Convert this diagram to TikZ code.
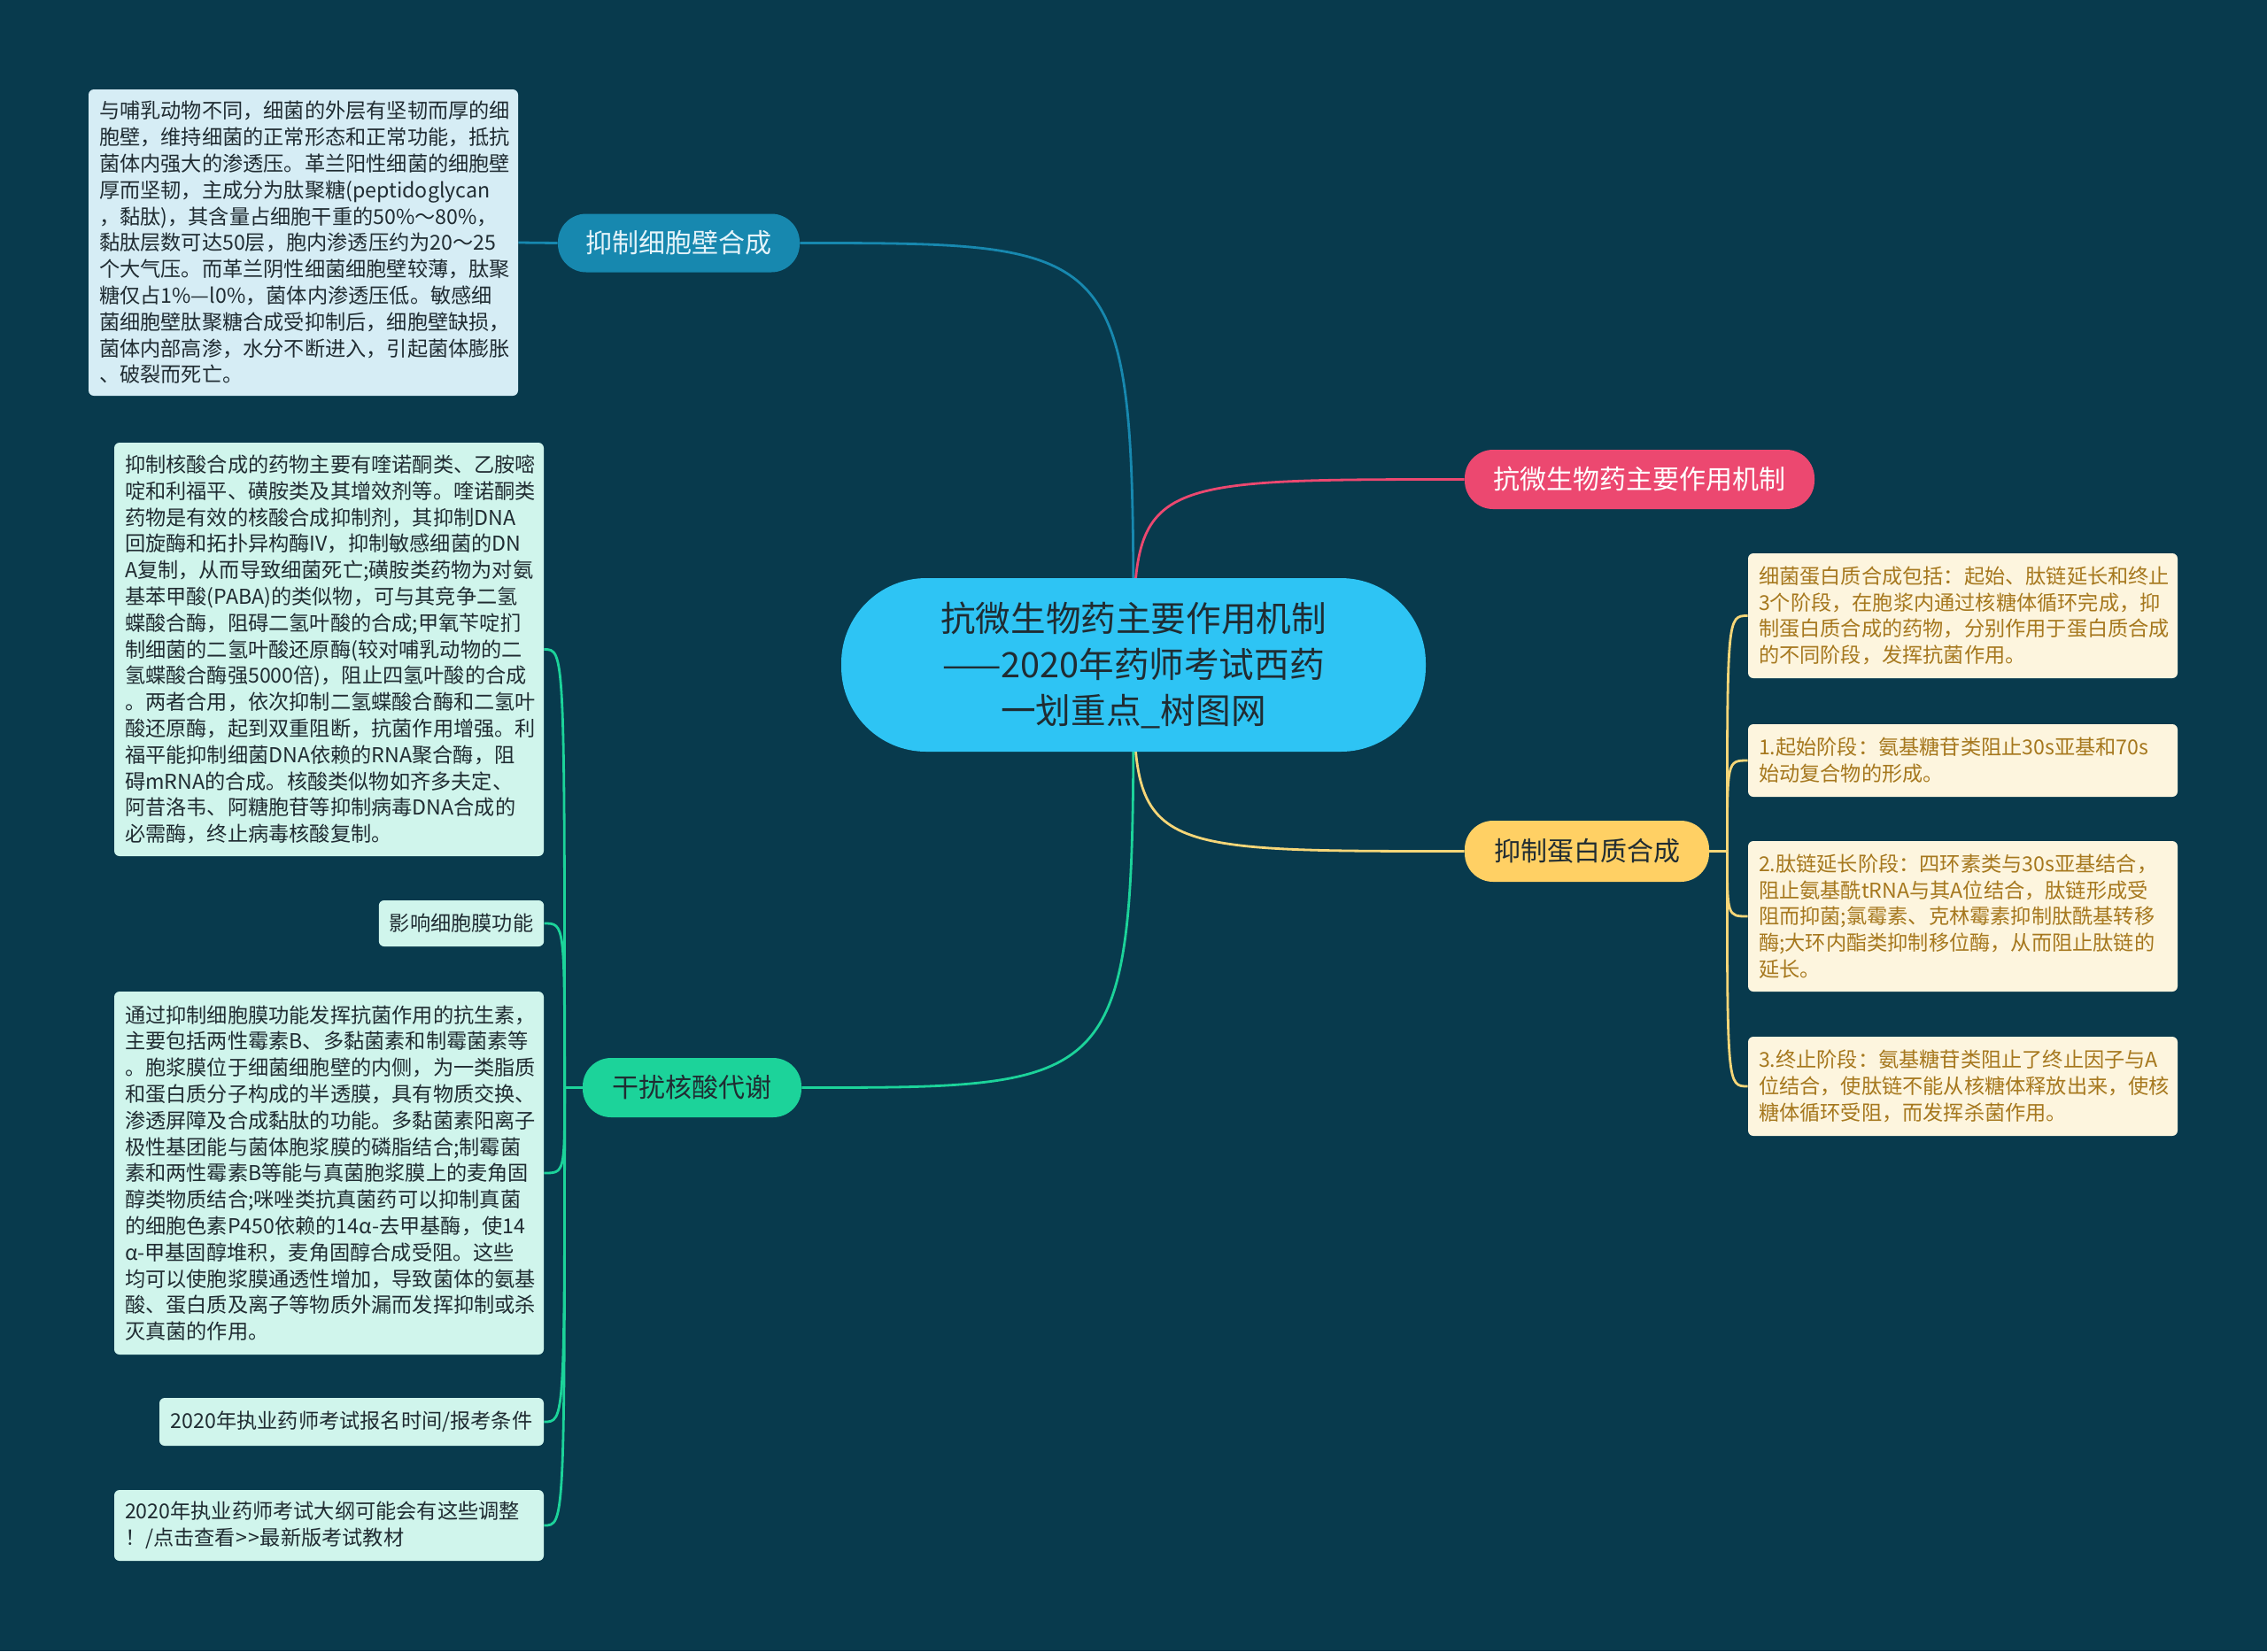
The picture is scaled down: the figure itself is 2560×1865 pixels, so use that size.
\documentclass[tikz,border=0pt]{standalone}
\usepackage{fontspec}
\setmainfont{Noto Sans CJK SC}
\usetikzlibrary{calc}
\definecolor{cbg}{RGB}{8,58,77}
\definecolor{croot}{RGB}{46,196,244}
\definecolor{cwall}{RGB}{23,136,175}
\definecolor{cwallbg}{RGB}{214,237,245}
\definecolor{ctitle}{RGB}{236,72,112}
\definecolor{cprot}{RGB}{255,208,100}
\definecolor{cprotln}{RGB}{246,214,120}
\definecolor{cprotbg}{RGB}{253,245,222}
\definecolor{cprottx}{RGB}{166,120,30}
\definecolor{cnuc}{RGB}{28,211,154}
\definecolor{cnucbg}{RGB}{208,245,236}
\definecolor{cdark}{RGB}{32,44,50}
\pgfdeclarelayer{bg}
\pgfdeclarelayer{edges}
\pgfsetlayers{bg,edges,main}

\begin{document}
\begin{tikzpicture}[
  x=0.5pt, y=-0.5pt,
  link/.style={line width=1.4pt},
  topic/.style={rounded corners=16pt,minimum height=33pt,inner xsep=8pt,
    font=\fontsize{15}{18}\selectfont},
  note/.style={rounded corners=3pt,text width=230.5pt,inner xsep=6pt,align=left,
    font=\fontsize{11.6}{14.9}\selectfont},
  tag/.style={rounded corners=3pt,inner xsep=6pt,font=\fontsize{11.6}{14.9}\selectfont}
]
  \useasboundingbox (0,0) rectangle (2560,1865);
  \begin{pgfonlayer}{bg}
    \fill[cbg] (0,0) rectangle (2560,1865);
  \end{pgfonlayer}

  % centre
  \node[fill=croot,text=cdark,rounded corners=48pt,minimum width=330pt,minimum height=98pt,
        align=center,font=\fontsize{19.8}{26}\selectfont] (root) at (1280,751)
    {抗微生物药主要作用机制\\——2020年药师考试西药\\一划重点\_树图网};

  % cell wall
  \node[topic,fill=cwall,text={rgb,255:red,228;green,244;blue,250},minimum width=136.5pt] (wall)
    at (766.5,274.5) {抑制细胞壁合成};
  \node[note,fill=cwallbg,text=cdark,minimum height=173pt] (walltxt) at (342.5,274)
    {与哺乳动物不同，细菌的外层有坚韧而厚的细\\
     胞壁，维持细菌的正常形态和正常功能，抵抗\\
     菌体内强大的渗透压。革兰阳性细菌的细胞壁\\
     厚而坚韧，主成分为肽聚糖(peptidoglycan\\
     ，黏肽)，其含量占细胞干重的50\%～80\%，\\
     黏肽层数可达50层，胞内渗透压约为20～25\\
     个大气压。而革兰阴性细菌细胞壁较薄，肽聚\\
     糖仅占1\%—l0\%，菌体内渗透压低。敏感细\\
     菌细胞壁肽聚糖合成受抑制后，细胞壁缺损，\\
     菌体内部高渗，水分不断进入，引起菌体膨胀\\
     、破裂而死亡。};

  % title
  \node[topic,fill=ctitle,text=white,minimum width=197.5pt,minimum height=33.5pt] (title)
    at (1851.5,541.5) {抗微生物药主要作用机制};

  % protein
  \node[topic,fill=cprot,text=cdark,minimum width=138pt,minimum height=34.5pt] (prot)
    at (1792,961.5) {抑制蛋白质合成};
  \node[note,fill=cprotbg,text=cprottx,minimum height=70.5pt] (pa) at (2216.5,695.5)
    {细菌蛋白质合成包括：起始、肽链延长和终止\\
     3个阶段，在胞浆内通过核糖体循环完成，抑\\
     制蛋白质合成的药物，分别作用于蛋白质合成\\
     的不同阶段，发挥抗菌作用。};
  \node[note,fill=cprotbg,text=cprottx,minimum height=41pt] (pb) at (2216.5,859)
    {1.起始阶段：氨基糖苷类阻止30s亚基和70s\\
     始动复合物的形成。};
  \node[note,fill=cprotbg,text=cprottx,minimum height=85pt] (pc) at (2216.5,1035)
    {2.肽链延长阶段：四环素类与30s亚基结合，\\
     阻止氨基酰tRNA与其A位结合，肽链形成受\\
     阻而抑菌;氯霉素、克林霉素抑制肽酰基转移\\
     酶;大环内酯类抑制移位酶，从而阻止肽链的\\
     延长。};
  \node[note,fill=cprotbg,text=cprottx,minimum height=56pt] (pd) at (2216.5,1227)
    {3.终止阶段：氨基糖苷类阻止了终止因子与A\\
     位结合，使肽链不能从核糖体释放出来，使核\\
     糖体循环受阻，而发挥杀菌作用。};

  % nucleic acid
  \node[topic,fill=cnuc,text=cdark,minimum width=123.5pt,minimum height=33.5pt] (nuc)
    at (781.5,1228.5) {干扰核酸代谢};
  \node[note,fill=cnucbg,text=cdark,minimum height=233.5pt] (na) at (371.5,733.5)
    {抑制核酸合成的药物主要有喹诺酮类、乙胺嘧\\
     啶和利福平、磺胺类及其增效剂等。喹诺酮类\\
     药物是有效的核酸合成抑制剂，其抑制DNA\\
     回旋酶和拓扑异构酶IV，抑制敏感细菌的DN\\
     A复制，从而导致细菌死亡;磺胺类药物为对氨\\
     基苯甲酸(PABA)的类似物，可与其竞争二氢\\
     蝶酸合酶，阻碍二氢叶酸的合成;甲氧苄啶扪\\
     制细菌的二氢叶酸还原酶(较对哺乳动物的二\\
     氢蝶酸合酶强5000倍)，阻止四氢叶酸的合成\\
     。两者合用，依次抑制二氢蝶酸合酶和二氢叶\\
     酸还原酶，起到双重阻断，抗菌作用增强。利\\
     福平能抑制细菌DNA依赖的RNA聚合酶，阻\\
     碍mRNA的合成。核酸类似物如齐多夫定、\\
     阿昔洛韦、阿糖胞苷等抑制病毒DNA合成的\\
     必需酶，终止病毒核酸复制。};
  \node[tag,fill=cnucbg,text=cdark,minimum width=93pt,minimum height=26pt] (nb)
    at (521,1043) {影响细胞膜功能};
  \node[note,fill=cnucbg,text=cdark,minimum height=205pt] (nc) at (371.5,1325)
    {通过抑制细胞膜功能发挥抗菌作用的抗生素，\\
     主要包括两性霉素B、多黏菌素和制霉菌素等\\
     。胞浆膜位于细菌细胞壁的内侧，为一类脂质\\
     和蛋白质分子构成的半透膜，具有物质交换、\\
     渗透屏障及合成黏肽的功能。多黏菌素阳离子\\
     极性基团能与菌体胞浆膜的磷脂结合;制霉菌\\
     素和两性霉素B等能与真菌胞浆膜上的麦角固\\
     醇类物质结合;咪唑类抗真菌药可以抑制真菌\\
     的细胞色素P450依赖的14α-去甲基酶，使14\\
     α-甲基固醇堆积，麦角固醇合成受阻。这些\\
     均可以使胞浆膜通透性增加，导致菌体的氨基\\
     酸、蛋白质及离子等物质外漏而发挥抑制或杀\\
     灭真菌的作用。};
  \node[tag,fill=cnucbg,text=cdark,minimum width=217pt,minimum height=27pt] (nd)
    at (397,1606) {2020年执业药师考试报名时间/报考条件};
  \node[note,fill=cnucbg,text=cdark,minimum height=40pt] (ne) at (371.5,1723)
    {2020年执业药师考试大纲可能会有这些调整\\
     ！/点击查看>\kern1pt>最新版考试教材};

  \coordinate (pj) at ($(prot.east)+(20,0)$);
  \coordinate (nj) at ($(nuc.west)+(-20,0)$);

  \begin{pgfonlayer}{edges}
    \draw[link,cwall] (root.center) .. controls (root.center |- wall.east) .. (wall.east);
    \draw[link,ctitle] (root.center) .. controls (root.center |- title.west) .. (title.west);
    \draw[link,cprotln] (root.center) .. controls (root.center |- prot.west) .. (prot.west);
    \draw[link,cnuc] (root.center) .. controls (root.center |- nuc.east) .. (nuc.east);

    \draw[link,cwall] (wall.west) -- (walltxt.east);

    \draw[link,cprotln] (prot.east) -- (pj);
    \foreach \n in {pa,pb,pc,pd}
      \draw[link,cprotln] (pj) .. controls (pj |- \n.west) .. (\n.west);

    \draw[link,cnuc] (nuc.west) -- (nj);
    \foreach \n in {na,nb,nc,nd,ne}
      \draw[link,cnuc] (nj) .. controls (nj |- \n.east) .. (\n.east);
  \end{pgfonlayer}
\end{tikzpicture}
\end{document}
